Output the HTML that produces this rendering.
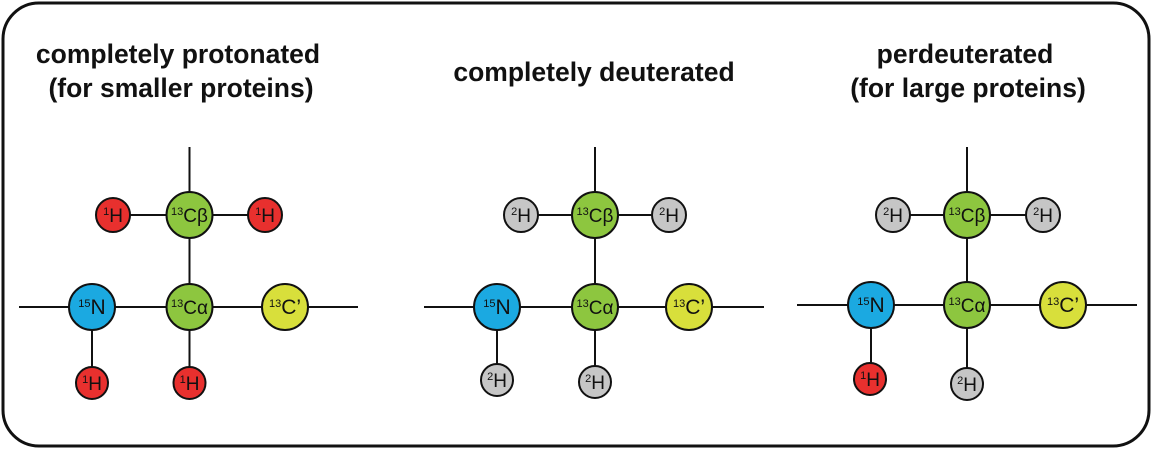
<!DOCTYPE html>
<html><head><meta charset="utf-8"><style>
html,body{margin:0;padding:0;background:#fff;}
svg{display:block;}
text{font-family:"Liberation Sans",Arial,sans-serif;}
.t{font-weight:bold;font-size:26.5px;fill:#111;text-anchor:middle;}
.l{font-size:19px;fill:#111;text-anchor:middle;}
.s{font-size:11px;}
circle{stroke:#111;stroke-width:2;}
line{stroke:#111;stroke-width:2;}
.r{fill:#e8302e}.g{fill:#8dc63f}.b{fill:#1ba9e1}.y{fill:#d8df3b}.e{fill:#c6c6c6}
</style></head><body>
<svg width="1152" height="449" viewBox="0 0 1152 449" xmlns="http://www.w3.org/2000/svg">
<rect x="3" y="3" width="1146" height="443" rx="36" fill="#fff" stroke="#111" stroke-width="3"/>
<text class="t" x="178" y="63">completely protonated</text>
<text class="t" x="181" y="97">(for smaller proteins)</text>
<text class="t" x="594" y="81">completely deuterated</text>
<text class="t" x="965" y="63">perdeuterated</text>
<text class="t" x="968" y="97">(for large proteins)</text>

<!-- panel 1 -->
<g>
<line x1="19" y1="307" x2="358" y2="307"/>
<line x1="189.5" y1="147" x2="189.5" y2="383"/>
<line x1="113" y1="215" x2="265" y2="215"/>
<line x1="92" y1="307" x2="92" y2="383"/>
<circle class="r" cx="113" cy="215" r="17"/><text class="l" x="113" y="222"><tspan class="s" dy="-7">1</tspan><tspan dy="7">H</tspan></text>
<circle class="r" cx="265" cy="215" r="17"/><text class="l" x="265" y="222"><tspan class="s" dy="-7">1</tspan><tspan dy="7">H</tspan></text>
<circle class="g" cx="189.5" cy="215" r="23"/><text class="l" x="189.5" y="222"><tspan class="s" dy="-7">13</tspan><tspan dy="7">Cβ</tspan></text>
<circle class="b" cx="92" cy="307" r="23"/><text class="l" x="92" y="314" style="font-size:21px"><tspan class="s" dy="-7">15</tspan><tspan dy="7">N</tspan></text>
<circle class="g" cx="189.5" cy="307" r="23"/><text class="l" x="189.5" y="314"><tspan class="s" dy="-7">13</tspan><tspan dy="7">Cα</tspan></text>
<circle class="y" cx="285" cy="307" r="23"/><text class="l" x="285" y="314" style="font-size:21px"><tspan class="s" dy="-7">13</tspan><tspan dy="7">C’</tspan></text>
<circle class="r" cx="92" cy="383" r="16"/><text class="l" x="92" y="390"><tspan class="s" dy="-7">1</tspan><tspan dy="7">H</tspan></text>
<circle class="r" cx="189.5" cy="383" r="16"/><text class="l" x="189.5" y="390"><tspan class="s" dy="-7">1</tspan><tspan dy="7">H</tspan></text>
</g>

<!-- panel 2 -->
<g>
<line x1="424" y1="307" x2="764" y2="307"/>
<line x1="595" y1="147" x2="595" y2="382"/>
<line x1="521" y1="215" x2="669" y2="215"/>
<line x1="497" y1="307" x2="497" y2="380"/>
<circle class="e" cx="521" cy="215" r="17"/><text class="l" x="521" y="222"><tspan class="s" dy="-7">2</tspan><tspan dy="7">H</tspan></text>
<circle class="e" cx="669" cy="215" r="17"/><text class="l" x="669" y="222"><tspan class="s" dy="-7">2</tspan><tspan dy="7">H</tspan></text>
<circle class="g" cx="595" cy="215" r="23"/><text class="l" x="595" y="222"><tspan class="s" dy="-7">13</tspan><tspan dy="7">Cβ</tspan></text>
<circle class="b" cx="497" cy="307" r="23"/><text class="l" x="497" y="314" style="font-size:21px"><tspan class="s" dy="-7">15</tspan><tspan dy="7">N</tspan></text>
<circle class="g" cx="595" cy="307" r="23"/><text class="l" x="595" y="314"><tspan class="s" dy="-7">13</tspan><tspan dy="7">Cα</tspan></text>
<circle class="y" cx="689" cy="307" r="23"/><text class="l" x="689" y="314" style="font-size:21px"><tspan class="s" dy="-7">13</tspan><tspan dy="7">C’</tspan></text>
<circle class="e" cx="497" cy="380" r="16"/><text class="l" x="497" y="387"><tspan class="s" dy="-7">2</tspan><tspan dy="7">H</tspan></text>
<circle class="e" cx="595" cy="382" r="16"/><text class="l" x="595" y="389"><tspan class="s" dy="-7">2</tspan><tspan dy="7">H</tspan></text>
</g>

<!-- panel 3 -->
<g>
<line x1="797" y1="305" x2="1137" y2="305"/>
<line x1="967" y1="147" x2="967" y2="384"/>
<line x1="893" y1="215" x2="1043" y2="215"/>
<line x1="871" y1="305" x2="871" y2="379"/>
<circle class="e" cx="893" cy="215" r="17"/><text class="l" x="893" y="222"><tspan class="s" dy="-7">2</tspan><tspan dy="7">H</tspan></text>
<circle class="e" cx="1043" cy="215" r="17"/><text class="l" x="1043" y="222"><tspan class="s" dy="-7">2</tspan><tspan dy="7">H</tspan></text>
<circle class="g" cx="967" cy="215" r="23"/><text class="l" x="967" y="222"><tspan class="s" dy="-7">13</tspan><tspan dy="7">Cβ</tspan></text>
<circle class="b" cx="871" cy="305" r="23"/><text class="l" x="871" y="312" style="font-size:21px"><tspan class="s" dy="-7">15</tspan><tspan dy="7">N</tspan></text>
<circle class="g" cx="967" cy="305" r="23"/><text class="l" x="967" y="312"><tspan class="s" dy="-7">13</tspan><tspan dy="7">Cα</tspan></text>
<circle class="y" cx="1063" cy="305" r="23"/><text class="l" x="1063" y="312" style="font-size:21px"><tspan class="s" dy="-7">13</tspan><tspan dy="7">C’</tspan></text>
<circle class="r" cx="870" cy="379" r="16"/><text class="l" x="870" y="386"><tspan class="s" dy="-7">1</tspan><tspan dy="7">H</tspan></text>
<circle class="e" cx="967" cy="384" r="16"/><text class="l" x="967" y="391"><tspan class="s" dy="-7">2</tspan><tspan dy="7">H</tspan></text>
</g>
</svg>
</body></html>
